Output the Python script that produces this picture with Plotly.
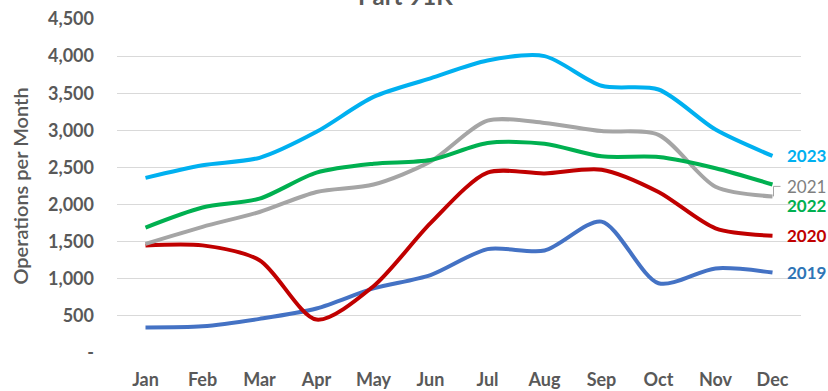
import plotly.graph_objects as go

months = ["Jan", "Feb", "Mar", "Apr", "May", "Jun", "Jul", "Aug", "Sep", "Oct", "Nov", "Dec"]
ops_2019 = [345, 360, 460, 600, 870, 1050, 1400, 1380, 1770, 940, 1140, 1085]
ops_2020 = [1450, 1450, 1250, 450, 900, 1750, 2430, 2420, 2470, 2170, 1680, 1580]
ops_2021 = [1470, 1700, 1900, 2170, 2270, 2580, 3130, 3100, 2990, 2940, 2240, 2110]
ops_2022 = [1690, 1960, 2080, 2430, 2550, 2600, 2830, 2820, 2650, 2640, 2490, 2270]
ops_2023 = [2360, 2530, 2630, 2980, 3450, 3700, 3940, 4000, 3600, 3550, 3010, 2655]
ytick_vals = [0, 500, 1000, 1500, 2000, 2500, 3000, 3500, 4000, 4500]
ytick_text = ["-", "500", "1,000", "1,500", "2,000", "2,500", "3,000", "3,500", "4,000", "4,500"]

series = [
    ("2019", ops_2019, "#4472C4", "#2E75B6"),
    ("2020", ops_2020, "#C00000", "#C00000"),
    ("2021", ops_2021, "#A5A5A5", "#7F7F7F"),
    ("2022", ops_2022, "#00B050", "#00B050"),
    ("2023", ops_2023, "#00B0F0", "#00B0F0"),
]

FONT = "Lato"
fig = go.Figure()
for name, vals, color, _ in series:
    fig.add_trace(go.Scatter(
        x=months, y=vals, mode="lines", name=name,
        line=dict(color=color, width=4, shape="spline", smoothing=0.8),
        hoverinfo="x+y+name",
    ))

# End-of-line series labels (2021/2022 nudged apart, 2021 with a leader line)
label_shift = {"2019": 0, "2020": 0, "2021": 10, "2022": -21, "2023": 0}
annos = []
for name, vals, color, lcolor in series:
    annos.append(dict(
        x=months[-1], y=vals[-1], xref="x", yref="y",
        text=name if name == "2021" else f"<b>{name}</b>",
        showarrow=False, xanchor="left", xshift=12, yshift=label_shift[name],
        font=dict(family=FONT, size=17, color=lcolor),
    ))

annos.append(dict(
    xref="paper", yref="paper", x=(405 - 117) / 684, y=1 + 7 / 334,
    xanchor="center", yanchor="bottom", showarrow=False, text="<b>Part 91K</b>",
    font=dict(family=FONT, size=24, color="#595959"),
))

shapes = [dict(
    type="path", xref="x", yref="y", xsizemode="pixel", ysizemode="pixel",
    xanchor=11, yanchor=ops_2021[-1],
    path="M 1 0 L 1 10 L 8 10",
    line=dict(color="#A5A5A5", width=1),
)]

fig.update_layout(
    width=828, height=391,
    margin=dict(l=117, r=27, t=19, b=38),
    paper_bgcolor="white", plot_bgcolor="white",
    showlegend=False,
    font=dict(family=FONT, color="#595959"),
    annotations=annos,
    shapes=shapes,
    xaxis=dict(
        type="category", range=[-0.5, 11.5], showgrid=False, zeroline=False,
        showline=False, ticks="", ticklabelstandoff=14, automargin=False,
        tickfont=dict(family=FONT, size=18, color="#595959", weight="bold"),
    ),
    yaxis=dict(
        range=[0, 4500], tickvals=ytick_vals, ticktext=ytick_text,
        showgrid=True, gridcolor="#D9D9D9", gridwidth=1, zeroline=False,
        showline=False, ticks="", ticklabelstandoff=22, automargin=False,
        tickfont=dict(family=FONT, size=18, color="#595959", weight="bold"),
        title=dict(text="Operations per Month", standoff=14,
                   font=dict(family=FONT, size=20, color="#595959", weight=600)),
    ),
)

fig.write_html("out.html")
